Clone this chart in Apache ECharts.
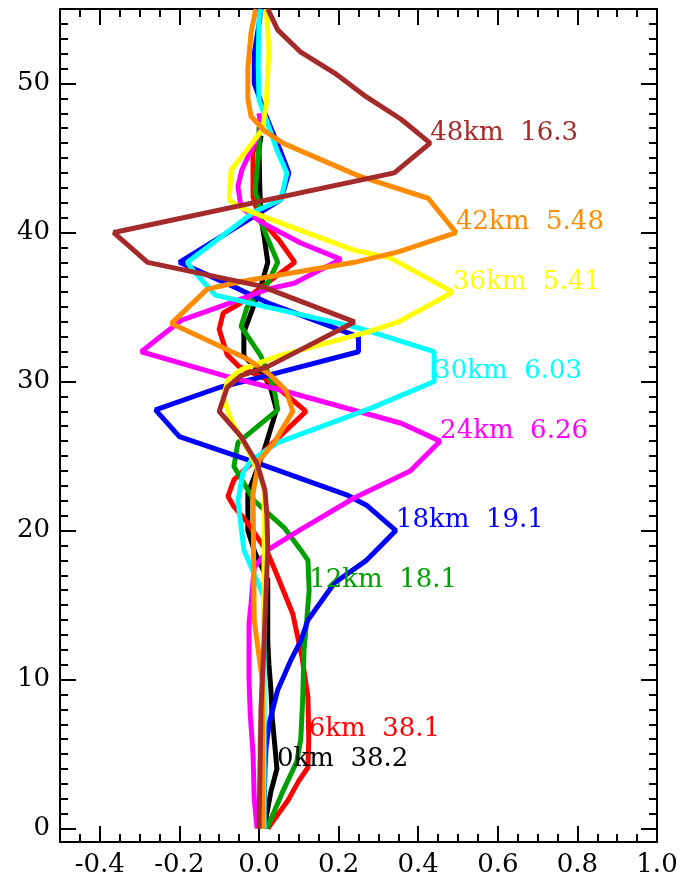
<!DOCTYPE html>
<html>
<head>
<meta charset="utf-8">
<script src="https://cdn.jsdelivr.net/npm/echarts@6/dist/echarts.min.js"></script>
<style>
  html, body { margin: 0; padding: 0; background: #fff; }
  #chart { width: 683px; height: 889px; }
</style>
</head>
<body>
<div id="chart"></div>
<script>
// Profiles: each point is [value, height km]
const profile0km = [
  [0.013,0],[0.03,2.5],[0.045,4],[0.04,5.5],[0.033,7.5],[0.03,9.3],[0.025,11],[0.022,12.6],
  [0.022,16.7],[-0.01,18.5],[-0.028,20],[-0.028,22.5],[-0.012,23.6],[0.013,25.4],[0.044,28.1],
  [0.03,29.5],[0.013,30.4],[-0.038,31.7],[-0.038,33.3],[-0.02,34.6],[0.005,36.4],[0.022,38],
  [0.013,39.7],[0.005,41],[0.002,43],[0.0,45.6],[0.005,46.5]
];
const profile6km = [
  [0.022,0],[0.073,1.9],[0.1,3.2],[0.123,4.1],[0.125,6],[0.123,8.8],[0.108,11.5],[0.085,14.4],
  [0.047,16.9],[0.022,18.5],[-0.028,20.5],[-0.063,21.6],[-0.078,22.3],[-0.063,23.4],[0.118,28],
  [0.06,29.3],[0.015,30.2],[-0.05,31],[-0.08,31.8],[-0.1,33.5],[-0.09,34.6],[-0.05,35.2],
  [0.09,38],[0.05,39.5],[0.0,41],[-0.015,42.4],[-0.015,45.4],[0.0,46.5]
];
const profile12km = [
  [0.02,0],[0.06,2.5],[0.095,4.5],[0.105,6],[0.11,8.8],[0.113,12],[0.12,14],[0.126,16],
  [0.123,18],[0.105,18.7],[0.063,20.2],[-0.012,22],[-0.063,24.3],[-0.053,25.9],[0.047,28.1],
  [0.04,29.2],[0.03,30.1],[0.005,31.7],[-0.045,33.7],[-0.03,35],[0.0,36],[0.022,36.6],
  [0.047,38],[0.02,39.7],[0.005,40.7],[-0.002,42.2],[-0.01,42.7],[0.0,45.6],[0.0,47.1]
];
const profile18km = [
  [0.012,0],[0.015,4],[0.018,5.5],[0.025,7],[0.047,9.3],[0.08,11.3],[0.105,12.6],[0.123,14],
  [0.19,16.5],[0.27,18],[0.344,20],[0.27,21.7],[0.22,22.4],[0.02,24.3],[-0.2,26.3],[-0.26,28.1],
  [-0.1,29.6],[0.005,30.3],[0.25,32],[0.25,33],[0.14,34.1],[0.02,35.3],[-0.05,36.2],[-0.2,38],
  [0.055,42.2],[0.075,44],[0.055,45.4],[0.03,47],[0.018,47.8],[-0.012,50],[-0.012,52],
  [0.0,54],[0.005,55]
];
const profile24km = [
  [-0.005,0],[-0.012,2],[-0.015,5],[-0.022,7.7],[-0.025,10],[-0.025,13.8],[-0.02,15.1],
  [-0.012,17.5],[0.022,18.7],[0.1,20],[0.24,22.2],[0.38,24],[0.455,26],[0.357,27.2],
  [0.073,29.3],[-0.088,30.4],[-0.296,32],[-0.196,34.1],[-0.07,35.3],[0.022,36.2],[0.088,36.6],
  [0.206,38.2],[0.105,39.3],[0.005,40.7],[-0.045,41.7],[-0.053,43.1],[-0.043,44.2],
  [-0.015,45.8],[0.005,46.9],[0.0,48]
];
const profile30km = [
  [0.013,0],[0.013,8],[0.013,15.5],[-0.038,18.7],[-0.053,22],[-0.04,23.9],[-0.02,24.7],
  [0.047,25.9],[0.28,28.2],[0.44,30],[0.44,32],[0.25,33.6],[-0.11,35.8],[-0.17,37.6],
  [-0.18,38],[-0.012,41.4],[0.055,42.2],[0.07,44],[0.047,45.4],[0.018,47.6],[0.0,48.9],
  [-0.002,51.2],[0.0,54.3],[0.005,55]
];
const profile36km = [
  [0.01,0],[0.01,10],[0.013,18.7],[0.013,22.7],[0.005,23.6],[-0.028,25.4],[-0.07,27.4],
  [-0.09,29],[-0.078,30.1],[-0.045,30.8],[0.047,31.7],[0.27,33.3],[0.35,34],[0.487,36],
  [0.33,38.3],[0.24,38.8],[0.018,41],[-0.048,41.7],[-0.075,42.2],[-0.07,44.2],[-0.04,45.2],
  [0.008,46.9],[0.018,48.5],[0.025,52.3],[0.018,55]
];
const profile42km = [
  [0.01,0],[0.008,10],[-0.012,14],[-0.015,22.5],[0.0,24.7],[0.038,25.9],[0.085,28],
  [0.068,29.4],[0.03,30.4],[-0.028,31.5],[-0.22,33.9],[-0.13,36.2],[-0.048,36.7],[0.085,37.3],
  [0.24,38],[0.35,38.7],[0.495,40],[0.425,42.3],[0.25,43.8],[0.06,46],[0.015,46.8],
  [-0.02,47.8],[-0.028,49],[-0.028,51],[-0.02,53.4],[-0.008,55]
];
const profile48km = [
  [0.0,0],[0.005,8],[0.012,12],[0.018,16],[0.022,18.7],[0.02,21],[0.015,22.7],[-0.005,24.5],
  [-0.045,26.3],[-0.1,28],[-0.08,29.6],[-0.045,30.4],[0.022,31],[0.24,34],[0.005,36.4],
  [-0.28,38],[-0.365,40],[0.34,44],[0.43,46],[0.357,47.6],[0.27,49.1],[0.19,50.7],
  [0.105,52.1],[0.047,53.6],[0.022,55]
];

const seriesNames = ['0km','6km','12km','18km','24km','30km','36km','42km','48km'];
const seriesFactors = ['38.2','38.1','18.1','19.1','6.26','6.03','5.41','5.48','16.3'];
const seriesColors = ['#000000','#ff0000','#00a000','#0000ff','#ff00ff','#00ffff','#ffff00','#ff8c00','#a52a2a'];
// Height of the profile vertex that carries each label
const labelHeights = [4, 6, 16, 20, 26, 30, 36, 40, 46];
const profiles = [profile0km, profile6km, profile12km, profile18km, profile24km,
                  profile30km, profile36km, profile42km, profile48km];

const xMajorTicks = [-0.4,-0.2,0.0,0.2,0.4,0.6,0.8,1.0];
const yMajorTicks = [0,10,20,30,40,50];

const X_MIN = -0.5, X_MAX = 1.0, Y_MIN = -0.9, Y_MAX = 55;

const xMinorTicks = [];
for (let i = 0; i <= 30; i++) xMinorTicks.push(+(X_MIN + i * 0.05).toFixed(2));
const yMinorTicks = [];
for (let i = 0; i <= 55; i++) yMinorTicks.push(i);

const FONT = 'DejaVu Serif';

function axisDef(kind, pos, ticks, len, withLine, withLabels) {
  const isX = kind === 'x';
  return {
    type: 'value', position: pos,
    min: isX ? X_MIN : Y_MIN, max: isX ? X_MAX : Y_MAX,
    axisLine: { show: withLine, onZero: false, lineStyle: { color: '#000', width: 2 } },
    axisTick: { show: true, inside: true, length: len, customValues: ticks,
                lineStyle: { color: '#000', width: 2 } },
    axisLabel: withLabels
      ? { show: true, customValues: ticks, margin: 10, color: '#000',
          fontFamily: FONT, fontSize: 26,
          formatter: v => isX ? v.toFixed(1) : String(v) }
      : { show: false, customValues: ticks },
    splitLine: { show: false }
  };
}

// Label each profile at its marked vertex
const labelPoints = profiles.map((p, i) => {
  const pt = p.find(q => q[1] === labelHeights[i]);
  return {
    value: [pt[0], pt[1]],
    label: {
      show: true, position: [0, 0], align: 'left', verticalAlign: 'middle',
      offset: [0, -10],
      formatter: seriesNames[i] + '  ' + seriesFactors[i],
      color: seriesColors[i], fontFamily: FONT, fontSize: 26, opacity: 1
    }
  };
});

const lineSeries = profiles.map((p, i) => ({
  type: 'line', name: seriesNames[i], data: p, xAxisIndex: 0, yAxisIndex: 0,
  showSymbol: false, symbol: 'none', smooth: false,
  lineStyle: { color: seriesColors[i], width: 5 },
  itemStyle: { color: seriesColors[i] }, z: 2 + i
}));

const chart = echarts.init(document.getElementById('chart'), null, { renderer: 'canvas' });
chart.setOption({
  animation: false,
  backgroundColor: '#fff',
  grid: { left: 60, right: 26, top: 9, bottom: 47, containLabel: false },
  xAxis: [
    axisDef('x', 'bottom', xMajorTicks, 16, true, true),
    axisDef('x', 'bottom', xMinorTicks, 8, false, false),
    axisDef('x', 'top', xMajorTicks, 16, true, false),
    axisDef('x', 'top', xMinorTicks, 8, false, false)
  ],
  yAxis: [
    axisDef('y', 'left', yMajorTicks, 16, true, true),
    axisDef('y', 'left', yMinorTicks, 8, false, false),
    axisDef('y', 'right', yMajorTicks, 16, true, false),
    axisDef('y', 'right', yMinorTicks, 8, false, false)
  ],
  series: lineSeries.concat([{
    type: 'scatter', name: 'labels', xAxisIndex: 0, yAxisIndex: 0,
    symbolSize: 0, itemStyle: { opacity: 1 }, data: labelPoints, z: 20, silent: true
  }])
});
</script>
</body>
</html>
